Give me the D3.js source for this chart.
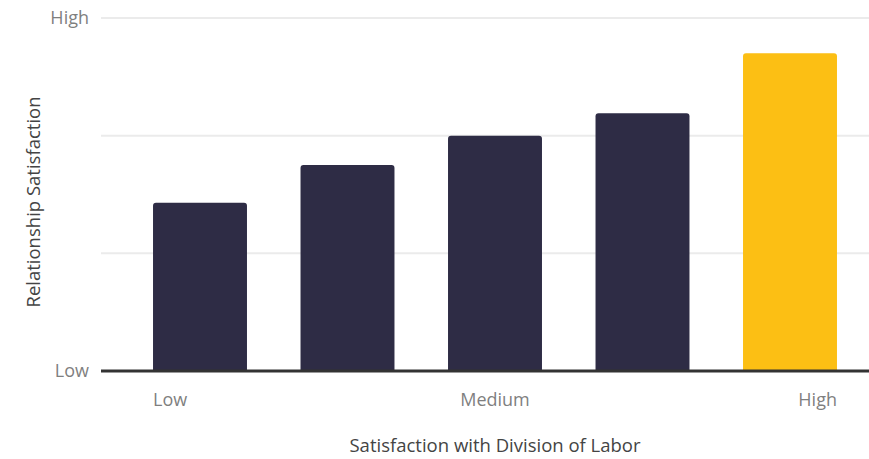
<!DOCTYPE html>
<html><head><meta charset="utf-8">
<script src="https://cdn.jsdelivr.net/npm/d3@7"></script>
<style>body{margin:0;background:#fff}svg{display:block;font-family:"Open Sans",Lato,sans-serif}</style>
</head><body><svg id="c" width="869" height="459"></svg>
<script>
const categories = ["c1","c2","c3","c4","c5"];
const values = [1.43, 1.75, 2.0, 2.19, 2.70];
const highlight = [false,false,false,false,true];
const xTickLabels = ["Low","Medium","High"];
const xTickCats = ["c1","c3","c5"];
const yTickValues = [0,1,2,3];
const yTickLabels = {0:"Low",3:"High"};
const xTitle = "Satisfaction with Division of Labor";
const yTitle = "Relationship Satisfaction";

(function(){
const svg = d3.select("#c");
const mLeft = 101, mRight = 869, mTop = 18, mBottom = 371;
const pi = 0.363;
const x = d3.scaleBand().domain(categories).range([126.25, 863.75]).paddingInner(pi).paddingOuter(pi/2);
const y = d3.scaleLinear().domain([0,3]).range([mBottom, mTop]);

svg.append("g").selectAll("line").data(yTickValues.filter(v=>v>0)).join("line")
  .attr("x1", mLeft).attr("x2", mRight).attr("y1", d=>y(d)).attr("y2", d=>y(d))
  .attr("stroke", "#ebebeb").attr("stroke-width", 2);

const r = 3;
svg.append("g").selectAll("path").data(categories).join("path")
  .attr("d", (c,i) => {
    const x0 = x(c), w = x.bandwidth(), y0 = y(values[i]), yb = y(0);
    return `M${x0},${yb}V${y0+r}Q${x0},${y0} ${x0+r},${y0}H${x0+w-r}Q${x0+w},${y0} ${x0+w},${y0+r}V${yb}Z`;
  })
  .attr("fill", (c,i) => highlight[i] ? "#fcbf14" : "#2e2c45");

svg.append("line").attr("x1", mLeft).attr("x2", mRight).attr("y1", y(0)).attr("y2", y(0))
  .attr("stroke", "#333333").attr("stroke-width", 3);

svg.append("g").selectAll("text").data(Object.keys(yTickLabels).map(Number)).join("text")
  .attr("x", 89).attr("y", d=>y(d)).attr("dy","0.35em").attr("text-anchor","end")
  .attr("font-size", 18).attr("fill", "#7f7f7f").text(d=>yTickLabels[d]);

const anchors = ["start","middle","end"];
svg.append("g").selectAll("text").data(xTickCats).join("text")
  .attr("x", (c,i) => i===0 ? x(c) : i===1 ? x(c)+x.bandwidth()/2 : x(c)+x.bandwidth())
  .attr("y", 406).attr("text-anchor", (c,i)=>anchors[i])
  .attr("font-size", 18).attr("fill", "#7f7f7f").text((c,i)=>xTickLabels[i]);

svg.append("text").attr("x", x("c3")+x.bandwidth()/2).attr("y", 452).attr("text-anchor","middle")
  .attr("font-size", 18.5).attr("fill","#444444").text(xTitle);
svg.append("text").attr("transform", `translate(40,202) rotate(-90)`).attr("text-anchor","middle")
  .attr("font-size", 18.5).attr("fill","#444444").text(yTitle);
})();
</script></body></html>
